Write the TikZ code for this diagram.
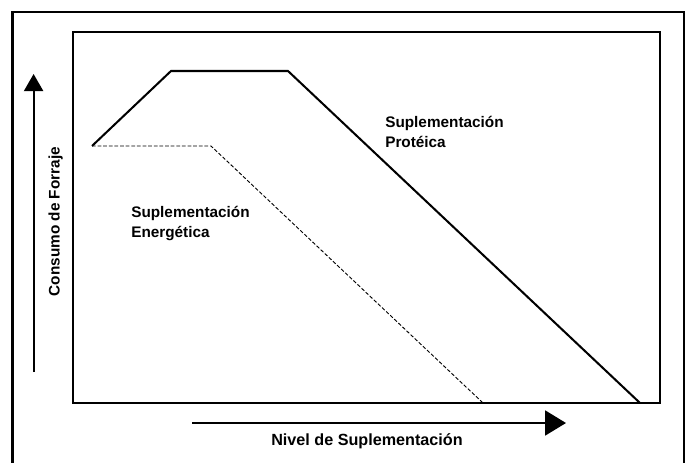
\documentclass[tikz,border=0pt]{standalone}
\usepackage{fontspec}
\setmainfont{Liberation Sans}
\usepackage{tikz}
\usetikzlibrary{arrows.meta, positioning}
\tikzset{
  %% ── Frames ───────────────────────────────────────────────────────────
  marco/.style      = {draw=black, line width=1.6pt},
  marcoGraf/.style  = {draw=black, line width=1.5pt},
  %%
  %% ── Curves ───────────────────────────────────────────────────────────
  curvaSolida/.style = {draw=black, line width=1.45pt, line join=miter},
  curvaPunteada/.style = {draw=black, line width=0.65pt,
                       dash pattern=on 2.6pt off 1.4pt},
  %%
  %% ── Axes ─────────────────────────────────────────────────────────────
  eje/.style        = {-{Triangle[length=0.43cm, width=0.48cm]},
                       draw=black, line width=1.4pt},
  %%
  %% ── Text ─────────────────────────────────────────────────────────────
  etiqueta/.style   = {font=\fontsize{10.9}{14.2}\selectfont\bfseries,
                       inner sep=0pt, align=left, text=black},
}

\begin{document}
\begin{tikzpicture}[x=1cm, y=1cm]
\useasboundingbox (0,0) rectangle (17.275,11.55);

%% outer frame, open at the foot of the page
\draw[marco] (0.31,-0.2) -- (0.31,11.25) -- (17.10,11.25) -- (17.10,-0.2);

%% plot area
\draw[marcoGraf] (1.825,1.475) rectangle (16.5,10.75);

%% curve points
\coordinate (ini)   at (2.30, 7.90);
\coordinate (pSube) at (4.275, 9.775);
\coordinate (pBaja) at (7.20, 9.775);
\coordinate (pFin)  at (16.00, 1.475);
\coordinate (eBaja) at (5.275, 7.90);
\coordinate (eFin)  at (12.075, 1.475);

\draw[curvaSolida] (ini) -- (pSube) -- (pBaja) -- (pFin);
\draw[curvaPunteada] (ini) -- (eBaja) -- (eFin);

\node[etiqueta, anchor=north west] (prot) at (9.625, 8.66)
     {Suplementación\\Protéica};
\node[etiqueta, anchor=north west] (ener) at (3.275, 6.41)
     {Suplementación\\Energética};

%% axes
\coordinate (yBase) at (0.84, 2.25);
\coordinate (yTope) at (0.84, 9.70);
\coordinate (xBase) at (4.80, 0.975);
\coordinate (xTope) at (14.15, 0.975);

\draw[eje] (yBase) -- (yTope);
\draw[eje, -{Triangle[length=0.52cm, width=0.62cm]}] (xBase) -- (xTope);

\node[etiqueta, rotate=90] (consumo) at (1.39, 6.01) {Consumo de Forraje};
\node[etiqueta, font=\fontsize{11.5}{14}\selectfont\bfseries] (nivel) at (9.175, 0.51)
     {Nivel de Suplementación};

\end{tikzpicture}
\end{document}
